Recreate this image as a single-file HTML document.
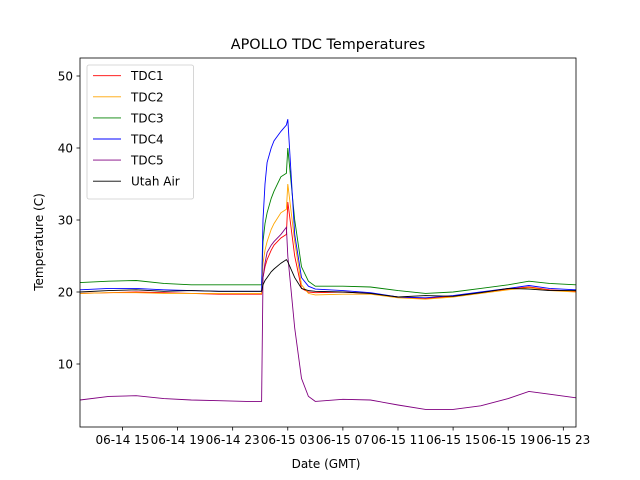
<!DOCTYPE html>
<html><head><meta charset="utf-8"><style>
html,body{margin:0;padding:0;background:#fff}
svg{display:block;font-family:"DejaVu Sans","Liberation Sans",sans-serif}
</style></head><body>
<svg id="chart" width="640" height="480" viewBox="0 0 640 480" xmlns="http://www.w3.org/2000/svg">
<rect width="640" height="480" fill="#fff"/>
<text x="328" y="49" font-size="14.4" text-anchor="middle">APOLLO TDC Temperatures</text>
<text x="326" y="468" font-size="12" text-anchor="middle">Date (GMT)</text>
<text transform="translate(43,242) rotate(-90)" font-size="12" text-anchor="middle">Temperature (C)</text>
<g id="plot"></g>
<rect x="80" y="58" width="496" height="369" fill="none" stroke="#000" stroke-width="0.8"/>
<g id="ticks"></g>
<g id="legend"></g>
</svg>
<script>
const times = [11.92,14,16,18,20,22,24,25.1,25.2,25.35,25.5,25.8,26,26.5,26.9,27.0,27.5,28,28.5,29,31,33,35,37,39,41,43,44.5,46,47.92];
const tdc1 = [19.8,19.9,20,19.9,19.8,19.7,19.7,19.7,22,23.5,24.5,25.8,26.5,27.5,28,32.5,25,20.5,20,19.9,20,19.8,19.3,19.1,19.4,19.9,20.4,20.7,20.3,20.1];
const tdc2 = [19.8,19.9,19.9,19.8,19.8,19.8,19.8,19.8,24,25.8,27,28.7,29.5,31,31.5,35,27,21,19.8,19.6,19.7,19.7,19.2,19,19.3,19.8,20.3,20.6,20.2,20];
const tdc3 = [21.3,21.5,21.6,21.2,21,21,21,21,27,29.5,31,33,34,36,36.5,40,30,23.5,21.5,20.8,20.8,20.7,20.2,19.8,20,20.5,21,21.5,21.2,21];
const tdc4 = [20.3,20.5,20.5,20.3,20.2,20.1,20.1,20.1,30,35,38,40,41,42.3,43.2,44,28,22,20.8,20.4,20.2,19.9,19.3,19.2,19.5,20,20.5,20.9,20.5,20.3];
const tdc5 = [5,5.5,5.6,5.2,5,4.9,4.8,4.8,22,24,25.5,26.5,27,28,29,25,15,8,5.5,4.8,5.1,5,4.3,3.7,3.7,4.2,5.2,6.2,5.8,5.3];
const utah = [20,20.2,20.3,20.1,20.2,20.1,20.1,20.1,21,21.6,22,22.8,23.2,24,24.5,24.2,22,20.5,20.2,20.1,20,19.8,19.3,19.5,19.4,19.9,20.5,20.4,20.2,20.2];
const seriesNames = ["TDC1","TDC2","TDC3","TDC4","TDC5","Utah Air"];
const seriesColors = ["red","orange","green","blue","purple","black"];
const xTickHours = [15,19,23,27,31,35,39,43,47];
const xTickLabels = ["06-14 15","06-14 19","06-14 23","06-15 03","06-15 07","06-15 11","06-15 15","06-15 19","06-15 23"];
const yTicks = [10,20,30,40,50];

const NS="http://www.w3.org/2000/svg";
const X0=80,X1=576,Y0=427,Y1=58;
const xMin=11.92,xMax=47.92,yMin=1.25,yMax=52.5;
const sx=h=>X0+(h-xMin)/(xMax-xMin)*(X1-X0);
const sy=v=>Y0-(v-yMin)/(yMax-yMin)*(Y0-Y1);
function mk(tag,attrs,parent){const e=document.createElementNS(NS,tag);for(const k in attrs)e.setAttribute(k,attrs[k]);parent.appendChild(e);return e;}
const plot=document.getElementById('plot');
const all=[tdc1,tdc2,tdc3,tdc4,tdc5,utah];
all.forEach((vals,i)=>{
  const d=vals.map((v,j)=>(j?'L':'M')+sx(times[j]).toFixed(1)+','+sy(v).toFixed(1)).join('');
  const p=mk('path',{d:d,fill:'none',stroke:seriesColors[i],'stroke-width':0.9},plot);
  
  
});
const tg=document.getElementById('ticks');
xTickHours.forEach((h,i)=>{
  const x=sx(h);
  const l=mk('line',{x1:x,x2:x,y1:Y0,y2:Y0+3.5,stroke:'#000','stroke-width':0.8},tg);
  
  
  const t=mk('text',{x:x,y:Y0+17,'font-size':12,'text-anchor':'middle'},tg);
  t.textContent=xTickLabels[i];
  
  
});
yTicks.forEach(v=>{
  const y=sy(v);
  const l=mk('line',{x1:X0-3.5,x2:X0,y1:y,y2:y,stroke:'#000','stroke-width':0.8},tg);
  
  
  const t=mk('text',{x:X0-7,y:y+4.5,'font-size':12,'text-anchor':'end'},tg);
  t.textContent=v;
  
  
});
const lg=document.getElementById('legend');
const box=mk('rect',{x:87,y:65,width:106.5,height:134,rx:2,fill:'#fff','fill-opacity':0.8,stroke:'#ccc','stroke-width':0.8},lg);


seriesNames.forEach((n,i)=>{
  const y=75.7+i*21.1;
  const l=mk('line',{x1:93,x2:121,y1:y,y2:y,stroke:seriesColors[i],'stroke-width':0.9},lg);
  
  
  const t=mk('text',{x:131,y:y+4.5,'font-size':12},lg);
  t.textContent=n;
  
  
});
</script>
</body></html>
